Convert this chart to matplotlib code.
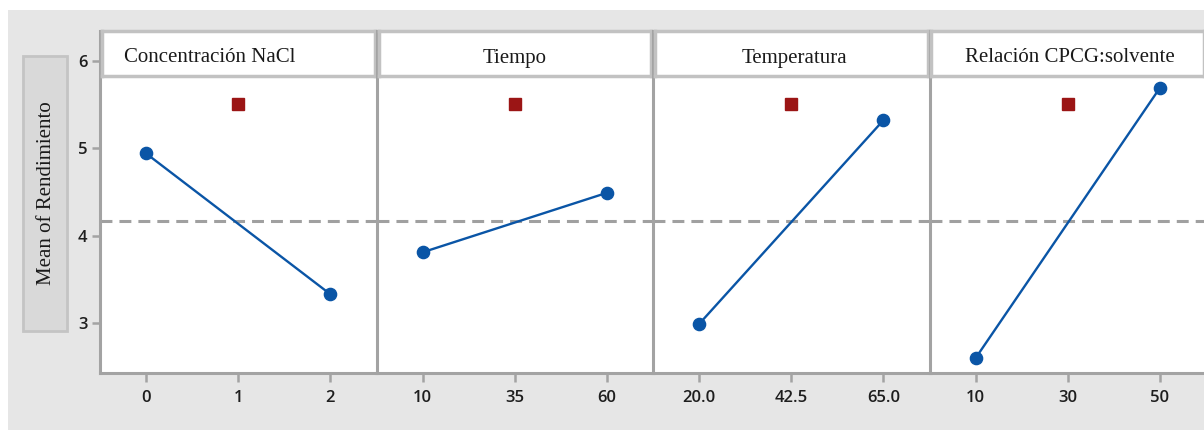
import matplotlib
matplotlib.use("Agg")
import matplotlib.pyplot as plt
from matplotlib.patches import Rectangle

W, H = 1204, 430

factors = ["Concentración NaCl", "Tiempo", "Temperatura", "Relación CPCG:solvente"]
level_labels = [["0", "1", "2"], ["10", "35", "60"], ["20.0", "42.5", "65.0"], ["10", "30", "50"]]
corner_means = [[4.94, 3.33], [3.81, 4.49], [2.99, 5.32], [2.60, 5.69]]
center_means = [5.51, 5.51, 5.51, 5.51]
overall_mean = 4.17
y_ticks = [3, 4, 5, 6]

BLUE = "#0a55a6"
RED = "#9b1515"
GRID_GRAY = "#a3a3a3"
SERIF = ["Liberation Serif", "DejaVu Serif"]
SANS = ["Open Sans", "DejaVu Sans"]


def fx(px):
    return px / W


def fy(py):
    return 1 - py / H


fig = plt.figure(figsize=(W / 100, H / 100), dpi=100, facecolor="white")

# grey canvas behind the panels
fig.patches.append(Rectangle((fx(8), 0), 1, fy(10), transform=fig.transFigure,
                             facecolor="#e6e6e6", edgecolor="none", zorder=-10))

# y-axis label box
fig.patches.append(Rectangle((fx(23), fy(331)), fx(67) - fx(23), fy(56) - fy(331),
                             transform=fig.transFigure, facecolor="#d9d9d9",
                             edgecolor="#c4c4c4", linewidth=2, zorder=-5))
fig.text(fx(47), fy(193), "Mean of Rendimiento", rotation=90, ha="center", va="center",
         family=SERIF, fontsize=15, color="#1a1a1a")

panel_left = [100, 376.5, 653, 929.5]
panel_w = 276.5
top_px, bottom_px, strip_bottom = 31, 373, 76
strip_text_x = [210, 515, 794, 1070]

for i, name in enumerate(factors):
    left = panel_left[i]
    ax = fig.add_axes([fx(left), fy(bottom_px), panel_w / W, (bottom_px - top_px) / H])
    ax.set_facecolor("white")
    ax.set_xlim(-0.5, 2.5)
    ax.set_ylim(2.43, 6.34)

    ax.axhline(overall_mean, color="#a0a0a0", linewidth=2.2, dashes=(3.9, 2.3), zorder=2)
    ax.plot([0, 2], corner_means[i], color=BLUE, linewidth=1.7, zorder=3)
    ax.plot([0, 2], corner_means[i], "o", color=BLUE, markersize=8.8, zorder=4)
    ax.plot([1], [center_means[i]], "s", color=RED, markersize=8.5, zorder=4)

    for side in ["top", "right"]:
        ax.spines[side].set_visible(False)
    ax.spines["left"].set_color(GRID_GRAY)
    ax.spines["left"].set_linewidth(2.2)
    ax.spines["bottom"].set_color(GRID_GRAY)
    ax.spines["bottom"].set_linewidth(2.2)

    ax.set_xticks([0, 1, 2])
    ax.set_xticklabels(level_labels[i], family=SANS, fontsize=12, fontweight="semibold",
                       color="#1e1e1e")
    ax.tick_params(axis="x", length=6.5, width=1.8, color=GRID_GRAY, pad=6)
    if i == 0:
        ax.set_yticks(y_ticks)
        ax.set_yticklabels([str(t) for t in y_ticks], family=SANS, fontsize=12,
                           fontweight="semibold", color="#1e1e1e")
        ax.tick_params(axis="y", length=6, width=1.8, color=GRID_GRAY, pad=3)
    else:
        ax.set_yticks([])

    # factor name strip across the top of each panel
    sax = fig.add_axes([fx(left + 2), fy(strip_bottom), (panel_w - 4) / W,
                        (strip_bottom - top_px) / H])
    sax.set_facecolor("white")
    sax.set_xticks([])
    sax.set_yticks([])
    for sp in sax.spines.values():
        sp.set_color("#c2c2c2")
        sp.set_linewidth(2.5)
    fig.text(fx(strip_text_x[i]), fy(62.5), name, ha="center", va="baseline",
             family=SERIF, fontsize=15, color="#1a1a1a", zorder=10)

fig.savefig("out.png", dpi=100, facecolor="white")
